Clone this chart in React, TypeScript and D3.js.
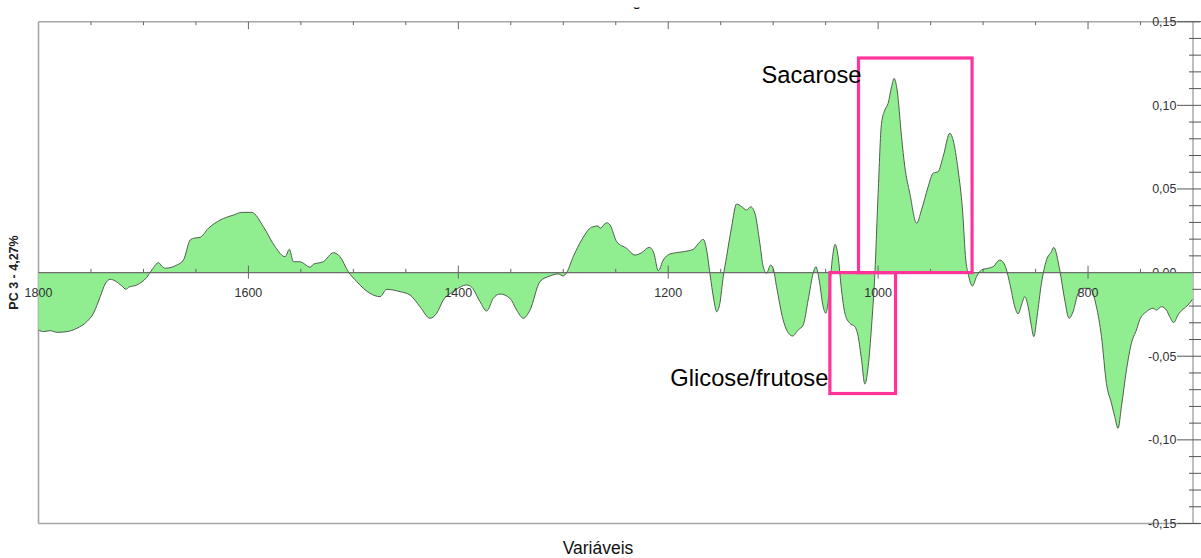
import React from "react";
import * as d3 from "d3";

// PC 3 loading spectrum (wavenumber in cm-1, loading value)
const wavenumbers = [
  1800, 1795.2, 1788.9, 1782.5, 1773.0, 1763.4, 1753.9, 1747.6, 1741.2, 1736.5,
  1731.7, 1726.9, 1720.6, 1716.5, 1714.3, 1706.3, 1696.8, 1692.0, 1685.7, 1682.5,
  1679.3, 1668.2, 1661.9, 1655.5, 1652.4, 1646.0, 1638.1, 1627.0, 1614.3, 1606.3,
  1596.8, 1585.7, 1574.6, 1565.0, 1561.0, 1557.1, 1550.8, 1541.2, 1538.1, 1528.6,
  1519.0, 1512.7, 1504.8, 1496.8, 1484.1, 1474.6, 1468.2, 1455.5, 1446.0, 1436.5,
  1427.0, 1420.6, 1414.3, 1404.8, 1392.0, 1387.2, 1379.3, 1373.0, 1366.7, 1360.3,
  1350.8, 1344.4, 1338.1, 1331.7, 1322.2, 1312.7, 1304.8, 1300.0, 1296.8, 1290.5,
  1282.5, 1273.0, 1266.7, 1265.0, 1258.7, 1255.5, 1249.1, 1239.6, 1231.7, 1225.3,
  1218.1, 1213.6, 1209.5, 1204.8, 1198.4, 1185.7, 1176.2, 1169.8, 1166.7, 1163.4,
  1160.3, 1156.5, 1153.9, 1150.8, 1147.6, 1144.4, 1139.6, 1134.9, 1130.1, 1125.3,
  1121.5, 1117.4, 1112.7, 1109.5, 1106.3, 1102.5, 1100.0, 1096.8, 1090.5, 1087.2,
  1081.5, 1076.2, 1071.4, 1066.7, 1061.9, 1059.3, 1056.2, 1052.4, 1049.8, 1046.7,
  1043.4, 1041.0, 1038.1, 1034.9, 1031.7, 1027.0, 1022.2, 1019.0, 1015.8, 1012.7,
  1009.5, 1006.3, 1003.1, 1000.0, 996.8, 993.6, 990.5, 987.2, 984.8, 981.9,
  977.7, 974.6, 969.8, 963.4, 958.7, 952.4, 947.6, 942.9, 938.1, 931.7,
  928.6, 923.8, 919.6, 916.5, 914.3, 910.1, 906.3, 901.5, 895.2, 890.5,
  884.1, 879.3, 874.6, 869.8, 866.7, 863.4, 860.3, 857.1, 853.9, 851.7,
  848.6, 844.4, 839.6, 834.9, 832.7, 827.0, 822.2, 818.1, 814.3, 809.5,
  804.8, 798.4, 792.0, 787.2, 782.5, 777.7, 774.6, 771.4, 768.2, 763.4,
  758.7, 753.9, 750.8, 744.4, 738.1, 734.9, 730.1, 725.3, 722.2, 718.4,
  714.3, 709.5, 704.8, 700.6,
];

const pc3Loadings = [
  -0.0343, -0.0353, -0.0347, -0.0357, -0.0353, -0.0333, -0.0293, -0.0243, -0.0144, -0.0068,
  -0.004, -0.005, -0.008, -0.01, -0.0088, -0.0074, -0.0028, 0.0016, 0.0059, 0.0039,
  0.0026, 0.0045, 0.0075, 0.0195, 0.0205, 0.0211, 0.0265, 0.0314, 0.0344, 0.036,
  0.036, 0.0274, 0.0155, 0.0095, 0.0139, 0.0065, 0.0065, 0.0032, 0.005, 0.0065,
  0.0119, 0.0095, 0.0005, -0.0054, -0.0124, -0.0144, -0.01, -0.0114, -0.0134, -0.0204,
  -0.0273, -0.0243, -0.0164, -0.0114, -0.0074, -0.0088, -0.0174, -0.023, -0.0154, -0.0128,
  -0.0154, -0.0224, -0.0273, -0.0224, -0.0054, -0.002, -0.0008, -0.002, 0.0, 0.0095,
  0.0195, 0.0271, 0.0279, 0.0265, 0.0298, 0.0285, 0.0185, 0.0145, 0.0105, 0.0119,
  0.0151, 0.0115, 0.0011, 0.0075, 0.0111, 0.0125, 0.0139, 0.0185, 0.0199, 0.0135,
  -0.0004, -0.0164, -0.0234, -0.0184, -0.0025, 0.0095, 0.0274, 0.041, 0.0394, 0.0374,
  0.0394, 0.0354, 0.0175, 0.0035, -0.0004, 0.0045, 0.0026, -0.0084, -0.0283, -0.0343,
  -0.0379, -0.0343, -0.0313, -0.0164, -0.0004, 0.0035, -0.0044, -0.0204, -0.0243, -0.0124,
  0.0095, 0.0169, 0.0095, -0.0104, -0.0243, -0.0303, -0.0323, -0.0383, -0.0522, -0.0666,
  -0.0562, -0.0323, -0.0004, 0.0474, 0.0892, 0.0972, 0.1012, 0.1111, 0.1161, 0.1091,
  0.0812, 0.0633, 0.0474, 0.0295, 0.0374, 0.0513, 0.0594, 0.0603, 0.0693, 0.0833,
  0.0793, 0.0613, 0.0374, 0.0075, -0.0004, -0.008, -0.0025, 0.0016, 0.0026, 0.0035,
  0.0075, 0.0045, -0.0064, -0.0204, -0.0247, -0.0194, -0.0144, -0.0204, -0.0323, -0.0383,
  -0.0264, -0.0064, 0.0075, 0.0125, 0.0151, 0.0016, -0.0164, -0.0273, -0.0234, -0.0124,
  -0.0094, -0.0094, -0.0204, -0.0383, -0.0662, -0.0781, -0.0861, -0.0931, -0.0802, -0.0582,
  -0.0423, -0.0343, -0.0283, -0.0234, -0.0213, -0.0224, -0.0204, -0.0224, -0.0264, -0.0299,
  -0.0253, -0.0219, -0.0194, -0.016,
];

const xMajorTicks = [1800, 1600, 1400, 1200, 1000, 800];
const yMajorTicks = [-0.15, -0.1, -0.05, 0, 0.05, 0.1, 0.15];

// Highlighted band regions: [wavenumber from, wavenumber to, loading low, loading high]
const sacaroseBand = [1018.7, 910.5, 0, 0.1283];
const glicoseBand = [1046, 983.4, -0.0723, 0];

const W = 1201;
const H = 558;
const font = "'Liberation Sans', Arial, Helvetica, sans-serif";

export default function App() {
  const x = d3.scaleLinear().domain([1800, 700]).range([38.5, 1193]);
  const y = d3.scaleLinear().domain([-0.15, 0.15]).range([523.5, 21.7]);

  const points = wavenumbers.map((w, i) => ({ w, v: pc3Loadings[i] }));

  const area = d3
    .area<{ w: number; v: number }>()
    .x((d) => x(d.w))
    .y0(y(0))
    .y1((d) => y(d.v))
    .curve(d3.curveMonotoneX);
  const line = d3
    .line<{ w: number; v: number }>()
    .x((d) => x(d.w))
    .y((d) => y(d.v))
    .curve(d3.curveMonotoneX);

  const xMinor = d3.range(1750, 700, -50).filter((t) => !xMajorTicks.includes(t));
  const yMinor = d3
    .range(-15, 16)
    .map((k) => k / 100)
    .filter((t) => !yMajorTicks.some((m) => Math.abs(m - t) < 1e-9));

  const left = x(1800);
  const right = x(700);
  const top = y(0.15);
  const bottom = y(-0.15);
  const zero = y(0);
  const axisX = right;

  const fmt = (v: number) => {
    const s = Math.abs(v).toFixed(2).replace(".", ",");
    return (v < -1e-9 ? "-" : "") + s;
  };

  const rect = (b: number[]) => ({
    x: x(b[0]),
    y: y(b[3]),
    w: x(b[1]) - x(b[0]),
    h: y(b[2]) - y(b[3]),
  });
  const sac = rect(sacaroseBand);
  const gli = rect(glicoseBand);

  return (
    <svg
      width={W}
      height={H}
      style={{ position: "absolute", left: 0, top: 0, background: "#fff" }}
      fontFamily={font}
    >
      <defs>
        <clipPath id="titleClip">
          <rect x={0} y={7.4} width={W} height={14} />
        </clipPath>
      </defs>
      <rect x={0} y={0} width={W} height={H} fill="#fff" />

      {/* chart title, cut off at the top edge */}
      <text
        x={586.5}
        y={6.3}
        fontSize={14}
        fontWeight="bold"
        fill="#111"
        clipPath="url(#titleClip)"
      >
        Loadings
      </text>

      {/* frame */}
      <line x1={left} x2={left} y1={top} y2={bottom} stroke="#a6a6a6" strokeWidth={1.6} />
      <line x1={left} x2={1200} y1={top} y2={top} stroke="#a6a6a6" strokeWidth={1.4} />
      <line x1={left} x2={1200} y1={bottom} y2={bottom} stroke="#a6a6a6" strokeWidth={1.4} />
      <line x1={axisX} x2={axisX} y1={top} y2={bottom} stroke="#8c8c8c" strokeWidth={1.1} />

      {/* top ticks */}
      {xMinor.map((t) => (
        <line key={"tm" + t} x1={x(t)} x2={x(t)} y1={top} y2={top + 3.5} stroke="#666" strokeWidth={1} />
      ))}
      {xMajorTicks.filter((t) => t !== 1800).map((t) => (
        <line key={"tM" + t} x1={x(t)} x2={x(t)} y1={top} y2={top + 7.5} stroke="#666" strokeWidth={1} />
      ))}

      {/* right y axis ticks and labels */}
      {yMinor.map((t) => (
        <line key={"ym" + t} x1={axisX - 4} x2={1201} y1={y(t)} y2={y(t)} stroke="#555" strokeWidth={1} />
      ))}
      {yMajorTicks.map((t) => (
        <g key={"yM" + t}>
          <line x1={1177} x2={1201} y1={y(t)} y2={y(t)} stroke="#555" strokeWidth={1} />
          <text x={1176.5} y={y(t) + 4.5} fontSize={12.5} textAnchor="end" fill="#333">
            {fmt(t)}
          </text>
        </g>
      ))}

      {/* loading curve */}
      <path d={area(points) || ""} fill="#90ee90" stroke="none" />

      {/* zero line with its ticks */}
      <line x1={left} x2={axisX} y1={zero} y2={zero} stroke="#6e6e6e" strokeWidth={1.2} />
      {xMinor.map((t) => (
        <line key={"zm" + t} x1={x(t)} x2={x(t)} y1={zero - 3.8} y2={zero} stroke="#666" strokeWidth={1} />
      ))}
      {xMajorTicks.filter((t) => t !== 1800).map((t) => (
        <line key={"zM" + t} x1={x(t)} x2={x(t)} y1={zero - 7} y2={zero + 6} stroke="#666" strokeWidth={1} />
      ))}

      <path d={line(points) || ""} fill="none" stroke="#4f5f4f" strokeWidth={1} />

      {xMajorTicks.map((t) => (
        <text key={"xl" + t} x={x(t)} y={zero + 24} fontSize={12.5} textAnchor="middle" fill="#333">
          {t}
        </text>
      ))}

      {/* highlighted regions */}
      <rect x={sac.x} y={sac.y} width={sac.w} height={sac.h} fill="none" stroke="#ff3399" strokeWidth={3.2} />
      <rect x={gli.x} y={gli.y} width={gli.w} height={gli.h} fill="none" stroke="#ff3399" strokeWidth={3.2} />
      <text x={sac.x + 3} y={82.7} fontSize={23.7} textAnchor="end" fill="#000">
        Sacarose
      </text>
      <text x={gli.x - 1.5} y={386} fontSize={23.7} textAnchor="end" fill="#000">
        Glicose/frutose
      </text>

      {/* axis titles */}
      <text
        transform={`translate(${17.5}, ${272.5}) rotate(-90)`}
        fontSize={12.5}
        fontWeight="bold"
        textAnchor="middle"
        fill="#222"
      >
        PC 3 - 4,27%
      </text>
      <text x={598} y={554} fontSize={17.5} textAnchor="middle" fill="#111">
        Variáveis
      </text>
    </svg>
  );
}
